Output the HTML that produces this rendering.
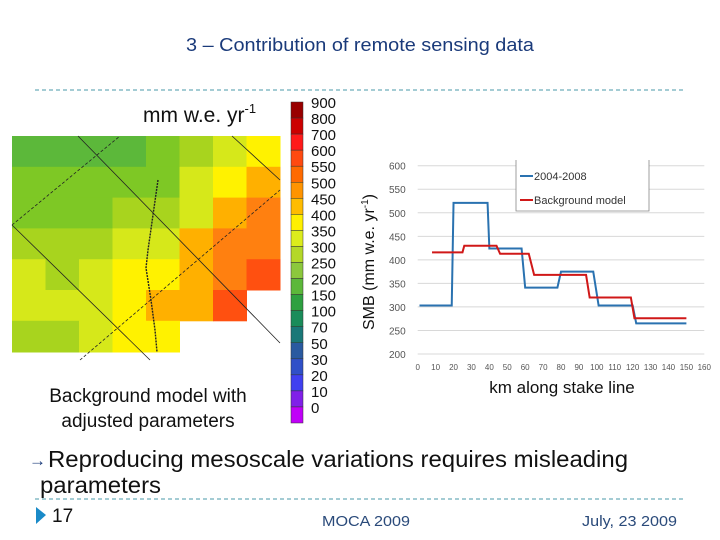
<!DOCTYPE html>
<html><head><meta charset="utf-8"><style>
html,body{margin:0;padding:0;background:#fff;}
svg{display:block;font-family:"Liberation Sans",sans-serif;}
</style></head><body>
<svg id="slide" width="720" height="540" viewBox="0 0 720 540">
<text x="186" y="51" font-size="18" fill="#1a3a7a" textLength="348" lengthAdjust="spacingAndGlyphs">3 – Contribution of remote sensing data</text>
<line x1="35" y1="90" x2="686" y2="90" stroke="#4a9aaa" stroke-dasharray="4,3"/>
<line x1="35" y1="499" x2="686" y2="499" stroke="#4a9aaa" stroke-dasharray="4,3"/>
<text x="143" y="122" font-size="21" fill="#111">mm w.e. yr<tspan font-size="13" dy="-9">-1</tspan></text>
<g id="heatmap"></g>
<g id="overlay" stroke="#222" stroke-width="0.8" fill="none">
<line x1="78" y1="136" x2="280" y2="343"/>
<line x1="12" y1="225" x2="120" y2="136" stroke-dasharray="3,2"/>
<line x1="12" y1="225" x2="150" y2="360"/>
<line x1="80" y1="360" x2="280" y2="190" stroke-dasharray="3,2"/>
<line x1="232" y1="136" x2="280" y2="180"/>
<polyline points="158,180 148,250 146,268 151,300 155,330 157,352" stroke-width="1.4" stroke-dasharray="2,1"/>
</g>
<text x="148" y="402" text-anchor="middle" font-size="19" fill="#111">Background model with</text>
<text x="148" y="427" text-anchor="middle" font-size="19" fill="#111">adjusted parameters</text>
<g id="colorbar"></g>
<text transform="translate(374,262) rotate(-90)" text-anchor="middle" font-size="16" fill="#111">SMB (mm w.e. yr<tspan font-size="10" dy="-6">-1</tspan><tspan dy="6">)</tspan></text>
<g id="chart"></g>
<text x="562" y="393" text-anchor="middle" font-size="17" fill="#111">km along stake line</text>
<text x="29" y="466" font-size="17" fill="#1a3a7a">→</text>
<text x="48" y="467" font-size="23" fill="#111" textLength="580" lengthAdjust="spacingAndGlyphs">Reproducing mesoscale variations requires misleading</text>
<text x="40" y="493" font-size="23" fill="#111" textLength="121" lengthAdjust="spacingAndGlyphs">parameters</text>
<polygon points="36,507 46,515 36,524" fill="#1a8ac8"/>
<text x="52" y="522" font-size="19" fill="#111">17</text>
<text x="322" y="526" font-size="15" fill="#2a4a7a" textLength="88" lengthAdjust="spacingAndGlyphs">MOCA 2009</text>
<text x="582" y="526" font-size="15" fill="#2a4a7a" textLength="95" lengthAdjust="spacingAndGlyphs">July, 23 2009</text>
</svg>
<script>
var NS="http://www.w3.org/2000/svg";
function mk(tag,attrs,parent){var e=document.createElementNS(NS,tag);for(var k in attrs)e.setAttribute(k,attrs[k]);parent.appendChild(e);return e;}

var mapRows=[
["G","G","G","G","M","L","Y1","Y"],
["M","M","M","M","M","Y1","Y","O1"],
["M","M","M","L","L","Y1","O1","O2"],
["L","L","L","Y1","Y1","O1","O2","O2"],
["Y1","L","Y1","Y","Y","O1","O2","R"],
["Y1","Y1","Y1","Y","O1","O1","R",""],
["L","L","Y1","Y","Y","","",""]];
var mapPalette={G:"#5cb83a",M:"#7ec825",L:"#a8d41e",Y1:"#d6e81a",Y:"#fff200",O1:"#ffb000",O2:"#ff8010",R:"#ff5010"};
var hm=document.getElementById('heatmap');
var mx0=12,my0=136,cw=33.5,ch=30.8;
for(var r=0;r<mapRows.length;r++){for(var c=0;c<mapRows[r].length;c++){var k=mapRows[r][c];if(!k)continue;
var h=(r==6)?(352-(my0+6*ch)):ch;
var cell=mk('rect',{x:mx0+c*cw,y:my0+r*ch,width:cw+0.5,height:h+0.5,fill:mapPalette[k]},hm);

}}

var cbLabels=["900","800","700","600","550","500","450","400","350","300","250","200","150","100","70","50","30","20","10","0"];
var cbColors=["#990000","#cc0000","#ff1a1a","#ff4a10","#ff6a00","#ff9400","#ffbc00","#fff000","#dcec1c","#b4d828","#8cc83c","#5cb83a","#2ea040","#1a8c5a","#1a7878","#2a5aa0","#3050c8","#4040f0","#8020e8","#c000f8"];
var cb=document.getElementById('colorbar');
var cbTop=102,cbH=16.05;
for(var i=0;i<cbLabels.length;i++){
var s=mk('rect',{x:291,y:cbTop+i*cbH,width:12,height:cbH,fill:cbColors[i],stroke:"#333","stroke-width":0.5},cb);


var t=mk('text',{x:311,y:cbTop+i*cbH+6,"font-size":15,fill:"#111"},cb);t.textContent=cbLabels[i];

}

var xTicks=[0,10,20,30,40,50,60,70,80,90,100,110,120,130,140,150,160];
var yTicks=[200,250,300,350,400,450,500,550,600];
var blueX=[1,19,20,39,40,58,60,78,80,98,101,120,122,150];
var blueY=[303,303,521,521,424,424,341,341,375,375,303,303,265,265];
var redX=[8,25,26,44,46,62,65,94,96,119,121,150];
var redY=[416,416,430,430,413,413,368,368,320,320,276,276];
var seriesNames=["2004-2008","Background model"];

var ch_=document.getElementById('chart');
var X0=417.7,X1=704.3,Y0=354,Y1=165.7;
function sx(v){return X0+(v-0)/(160-0)*(X1-X0);}
function sy(v){return Y0-(v-200)/(600-200)*(Y0-Y1);}
yTicks.forEach(function(v){
var g=mk('line',{x1:X0,x2:X1,y1:sy(v),y2:sy(v),stroke:"#d8d8d8","stroke-width":1},ch_);


var t=mk('text',{x:X0-12,y:sy(v)+4,"font-size":10,fill:"#555","text-anchor":"end"},ch_);t.textContent=v;

});
xTicks.forEach(function(v){
var t=mk('text',{x:sx(v),y:370,"font-size":8,fill:"#555","text-anchor":"middle"},ch_);t.textContent=v;

});
function line(xs,ys,col,name){var p=xs.map(function(x,i){return sx(x)+","+sy(ys[i]);}).join(" ");
var l=mk('polyline',{points:p,fill:"none",stroke:col,"stroke-width":2},ch_);

}
line(blueX,blueY,"#2a72b0","series-2004-2008");
line(redX,redY,"#d01818","series-background-model");
var lg=mk('g',{},ch_);


mk('polyline',{points:"516,160 516,211 649,211 649,160",fill:"#fff",stroke:"#888","stroke-width":0.8},lg);
var cols=["#2a72b0","#d01818"];
seriesNames.forEach(function(n,i){var yy=176+i*24;
mk('line',{x1:520,x2:533,y1:yy,y2:yy,stroke:cols[i],"stroke-width":2},lg);
var t=mk('text',{x:534,y:yy+4,"font-size":11,fill:"#333"},lg);t.textContent=n;

});
</script>
</body></html>
